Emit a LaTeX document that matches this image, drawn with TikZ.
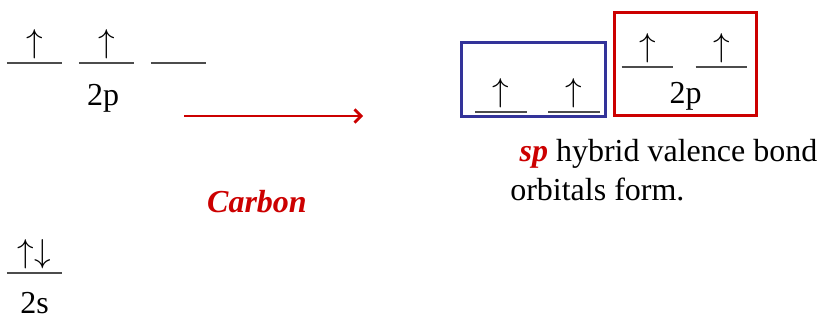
\documentclass[tikz,border=0pt]{standalone}
\usepackage{fontspec}
\setmainfont{Liberation Serif}
\usetikzlibrary{arrows.meta,positioning}
\definecolor{slidered}{HTML}{CC0000}
\definecolor{slideblue}{HTML}{333399}

\begin{document}
\begin{tikzpicture}[
  x=0.75pt, y=-0.75pt,
  font=\rmfamily\fontsize{24}{28.5}\selectfont,
  orb/.style={minimum width=41pt, inner xsep=0pt, inner ysep=3pt, anchor=south,
              font=\fontsize{25}{30}\selectfont},
  hyb/.style={orb, minimum width=38.5pt},
  level/.style={draw=black!70, line width=1pt},
  lbl/.style={anchor=base, inner sep=1pt},
  sbox/.style={rectangle, draw=slideblue, line width=2.2pt, inner sep=0pt,
               minimum width=108pt, minimum height=55.5pt},
  pbox/.style={rectangle, draw=slidered, line width=2.2pt, inner sep=0pt,
               minimum width=106.5pt, minimum height=77.25pt},
  promote/.style={-{Straight Barb[length=5pt,width=10pt]}, draw=slidered, line width=2pt},
  emph/.style={text=slidered, font=\rmfamily\fontsize{24}{28.5}\selectfont\bfseries\itshape},
]
\useasboundingbox (0,0) rectangle (819,321);

% ground state of carbon
\node[orb] (p1) at (34.5,63) {$\uparrow$};
\node[orb] (p2) at (106.5,63) {$\uparrow$};
\node[orb] (p3) at (178.5,63) {};
\node[lbl] (plbl) at (103,106) {2p};
\node[orb] (s1) at (34.5,273) {$\uparrow\downarrow$};
\node[lbl] (slbl) at (34.5,314) {2s};

\node[emph, lbl] (carbon) at (257,213) {Carbon};

\coordinate (from) at (184,116);
\coordinate (to) at (363,116);
\draw[promote] (from) -- (to);

% hybridised state
\node[sbox] (spbox) at (533.5,79.5) {};
\node[hyb] (h1) at (501,112) {$\uparrow$};
\node[hyb] (h2) at (574,112) {$\uparrow$};

\node[pbox] (pibox) at (685.5,64) {};
\node[hyb] (q1) at (647.5,67) {$\uparrow$};
\node[hyb] (q2) at (721.5,67) {$\uparrow$};
\node[lbl] (qlbl) at (685.5,104) {2p};

\foreach \o in {p1,p2,p3,s1,h1,h2,q1,q2}
  \draw[level] (\o.south west) -- (\o.south east);

\node[anchor=base west, align=left, inner sep=0pt] (note) at (510,200)
  {\hspace*{7pt}\textcolor{slidered}{\bfseries\itshape sp} hybrid valence bond\\orbitals form.};

\end{tikzpicture}
\end{document}
